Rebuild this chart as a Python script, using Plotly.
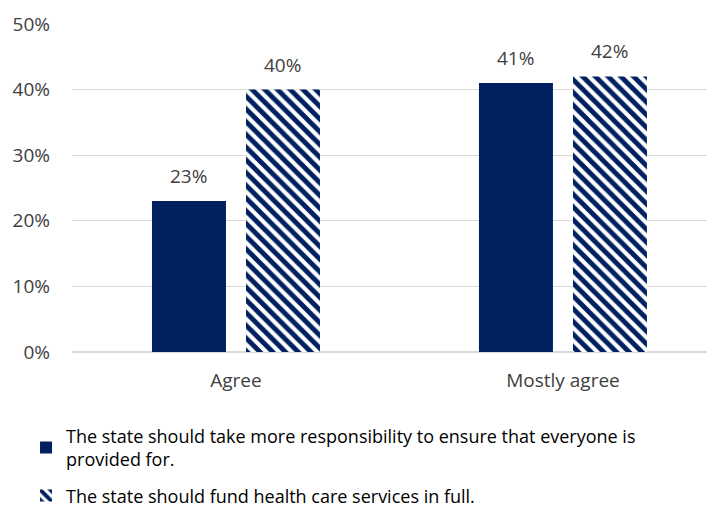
import plotly.graph_objects as go

categories = ["Agree", "Mostly agree"]
series1_name = "The state should take more responsibility to ensure that everyone is<br>provided for."
series2_name = "The state should fund health care services in full."
series1_values = [0.23, 0.41]
series2_values = [0.40, 0.42]
y_ticks = [0, 0.1, 0.2, 0.3, 0.4, 0.5]
y_ticklabels = ["0%", "10%", "20%", "30%", "40%", "50%"]

NAVY = "#002060"
TEXT = "#404040"
FONT = "'Open Sans', sans-serif"

fig = go.Figure()
fig.add_trace(go.Bar(
    x=categories, y=series1_values, name=series1_name,
    marker=dict(color=NAVY, line=dict(width=0)),
    legendgroup="a",
))
fig.add_trace(go.Bar(
    x=categories, y=series2_values, name=series2_name,
    marker=dict(color="white", line=dict(width=0),
                pattern=dict(shape="\\", fgcolor=NAVY, bgcolor="white",
                             fgopacity=1, size=9, solidity=0.55)),
    legendgroup="b",
))

# data labels above each bar (offset to bar centres within the group)
for values, shift in ((series1_values, -47), (series2_values, 47)):
    for cat, v in zip(categories, values):
        fig.add_annotation(
            x=cat, y=v, text=f"{v:.0%}", showarrow=False,
            xshift=shift, yshift=10, yanchor="bottom",
            font=dict(size=19, color=TEXT, family=FONT),
        )

fig.update_layout(
    width=707, height=501,
    margin=dict(l=64, r=0, t=16, b=157, autoexpand=False),
    paper_bgcolor="white", plot_bgcolor="white",
    barmode="group", bargap=0.425, bargroupgap=0.213,
    font=dict(family=FONT, color=TEXT, size=19),
    showlegend=True,
    legend=dict(
        orientation="v", x=-0.0715, xanchor="left", y=-0.2, yanchor="top",
        font=dict(size=18, color="#000000", family=FONT),
        tracegroupgap=10, traceorder="grouped",
        itemwidth=30,
    ),
    xaxis=dict(
        range=[-0.5015, 1.465], showgrid=False, showline=False, ticks="",
        tickfont=dict(size=19, color=TEXT), ticklabelstandoff=15,
    ),
    yaxis=dict(
        range=[0, 0.5], tickvals=y_ticks, ticktext=y_ticklabels,
        showgrid=True, gridcolor="#D9D9D9", gridwidth=1,
        zeroline=True, zerolinecolor="#D9D9D9", showline=False,
        tickfont=dict(size=19, color=TEXT), ticklabelstandoff=21,
    ),
)

fig.write_html("out.html")
